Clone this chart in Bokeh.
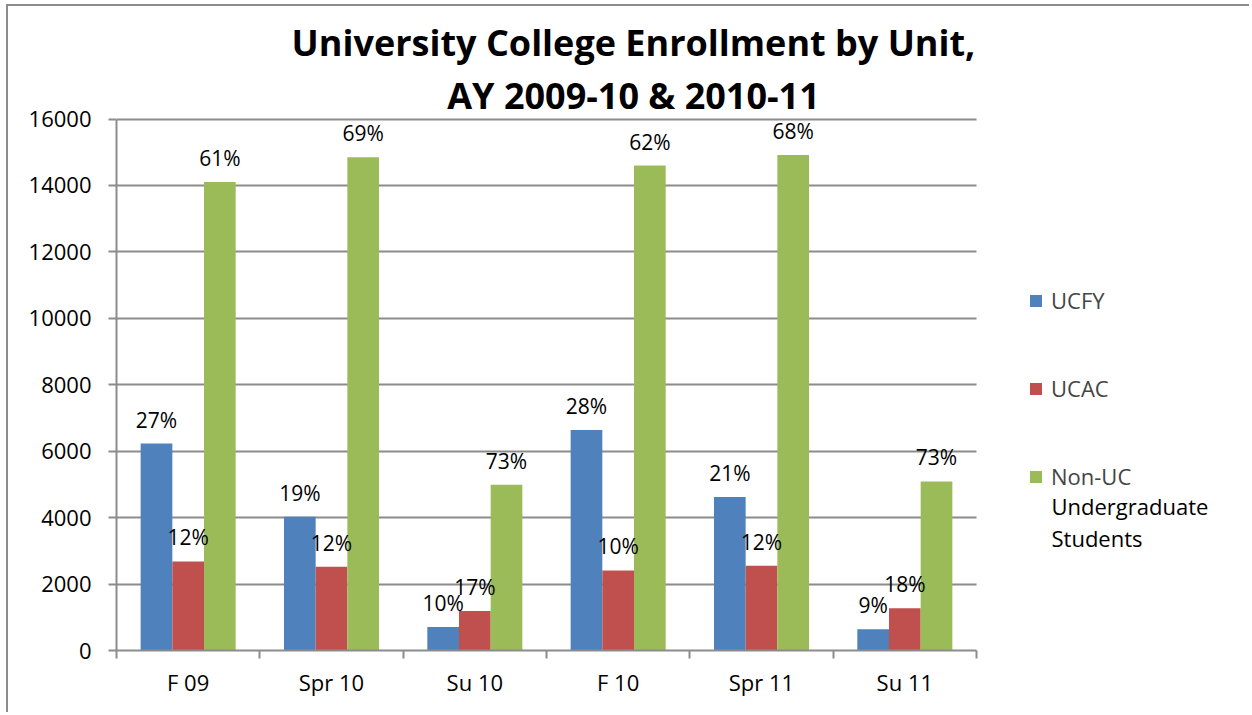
import numpy as np
from bokeh.plotting import figure
from bokeh.models import (ColumnDataSource, FixedTicker, LabelSet, Label,
                          Legend, LegendItem, Range1d)
from bokeh.transform import dodge
from bokeh.core.properties import value
from bokeh.embed import file_html
from bokeh.resources import INLINE

# ---- data ----
categories = ["F 09", "Spr 10", "Su 10", "F 10", "Spr 11", "Su 11"]
ucfy = [6230, 4030, 710, 6640, 4620, 640]
ucac = [2680, 2520, 1190, 2410, 2550, 1270]
nonuc = [14100, 14850, 4990, 14600, 14920, 5090]
ucfy_pct = ["27%", "19%", "10%", "28%", "21%", "9%"]
ucac_pct = ["12%", "12%", "17%", "10%", "12%", "18%"]
nonuc_pct = ["61%", "69%", "73%", "62%", "68%", "73%"]
series_names = ["UCFY", "UCAC", "Non-UC"]
series_name_rest = ["Undergraduate", "Students"]
title_lines = ["University College Enrollment by Unit,", "AY 2009-10 & 2010-11"]
y_ticks = [0, 2000, 4000, 6000, 8000, 10000, 12000, 14000, 16000]
y_max = 16000

# ---- styles / layout ----
COLORS = ["#4F81BD", "#C0504D", "#9BBB59"]
GRAY = "#8c8c8c"
FONT = "Open Sans"
BW = 0.221

W, H = 1243, 708            # canvas (placed at page x=8, y=6)
LEFT, BOTTOM = 108, 64      # borders; frame runs to top/right canvas edges
PLOT_W, PLOT_H = 860, 531.5  # visible plot area (categories / 0..16000)
FW, FH = W - LEFT, H - BOTTOM
x_end = len(categories) * FW / PLOT_W
y_end = y_max * FH / PLOT_H

p = figure(width=W, height=H, output_backend="svg", toolbar_location=None,
           x_range=Range1d(0, x_end), y_range=Range1d(0, y_end),
           min_border_left=LEFT, min_border_right=0,
           min_border_top=0, min_border_bottom=BOTTOM)
p.title = None
p.styles = {"margin-left": "6px", "margin-top": "4px",
            "border-left": "2px solid #8c8c8c", "border-top": "2px solid #8c8c8c"}
p.outline_line_color = None
p.background_fill_color = "white"
p.border_fill_color = "white"

src = ColumnDataSource(dict(
    x=np.arange(len(categories)) + 0.5,
    ucfy=ucfy, ucac=ucac, nonuc=nonuc,
    ucfy_pct=ucfy_pct, ucac_pct=ucac_pct, nonuc_pct=nonuc_pct,
))

renderers = []
for i, (col, pct) in enumerate([("ucfy", "ucfy_pct"), ("ucac", "ucac_pct"), ("nonuc", "nonuc_pct")]):
    off = (i - 1) * BW
    r = p.vbar(x=dodge("x", off, range=p.x_range), top=col, width=BW, source=src,
               fill_color=COLORS[i], line_color=None)
    renderers.append(r)
    labels = LabelSet(x=dodge("x", off, range=p.x_range), y=col, text=pct, source=src,
                      text_align="center", text_baseline="alphabetic", y_offset=16,
                      text_font=value(FONT), text_font_size="21px", text_color="black")
    p.add_layout(labels)

# x axis: labels at category centres, ticks at boundaries
p.xaxis.bounds = (0, len(categories))
p.xaxis.ticker = FixedTicker(ticks=list(np.arange(len(categories)) + 0.5),
                             minor_ticks=list(range(len(categories) + 1)))
p.xaxis.major_label_overrides = {float(i) + 0.5: c for i, c in enumerate(categories)}
p.xaxis.major_tick_line_color = None
p.xaxis.major_tick_out = 8
p.xaxis.major_tick_in = 0
p.xaxis.minor_tick_out = 8
p.xaxis.minor_tick_in = 0
p.xaxis.minor_tick_line_color = GRAY
p.xaxis.minor_tick_line_width = 2
p.xaxis.major_label_standoff = 8
p.xgrid.visible = False

p.yaxis.bounds = (0, y_max)
p.yaxis.ticker = FixedTicker(ticks=y_ticks)
p.yaxis.major_tick_out = 8
p.yaxis.major_tick_in = 0
p.yaxis.minor_tick_line_color = None
p.yaxis.major_tick_line_color = GRAY
p.yaxis.major_tick_line_width = 2
p.yaxis.major_label_standoff = 17

for ax in (p.xaxis, p.yaxis):
    ax.axis_line_color = GRAY
    ax.axis_line_width = 2
    ax.major_label_text_font = FONT
    ax.major_label_text_font_size = "22px"
    ax.major_label_text_color = "black"

p.ygrid.grid_line_color = GRAY
p.ygrid.grid_line_width = 2
p.ygrid.cross_bounds = (0, len(categories))

# title (screen px from plot-area bottom-left)
for txt, yb in [(title_lines[0], 608), (title_lines[1], 555)]:
    p.add_layout(Label(x=517, y=yb, x_units="screen", y_units="screen", text=txt,
                       text_align="center", text_baseline="alphabetic",
                       text_font=FONT, text_font_style="bold",
                       text_font_size="36px", text_color="black"))

legend = Legend(items=[LegendItem(label=n, renderers=[r]) for n, r in zip(series_names, renderers)],
                location=(912, 159), orientation="vertical",
                glyph_width=15, glyph_height=15, spacing=58,
                label_text_font=FONT, label_text_font_size="22px",
                label_standoff=8,
                border_line_color=None, background_fill_alpha=0,
                padding=0, margin=0)
p.add_layout(legend)

for txt, yb in zip(series_name_rest, [145, 113]):
    p.add_layout(Label(x=935, y=yb, x_units="screen", y_units="screen", text=txt,
                       text_align="left", text_baseline="alphabetic",
                       text_font=FONT, text_font_size="22px", text_color="black"))

open("out.html", "w").write(file_html(p, INLINE))
